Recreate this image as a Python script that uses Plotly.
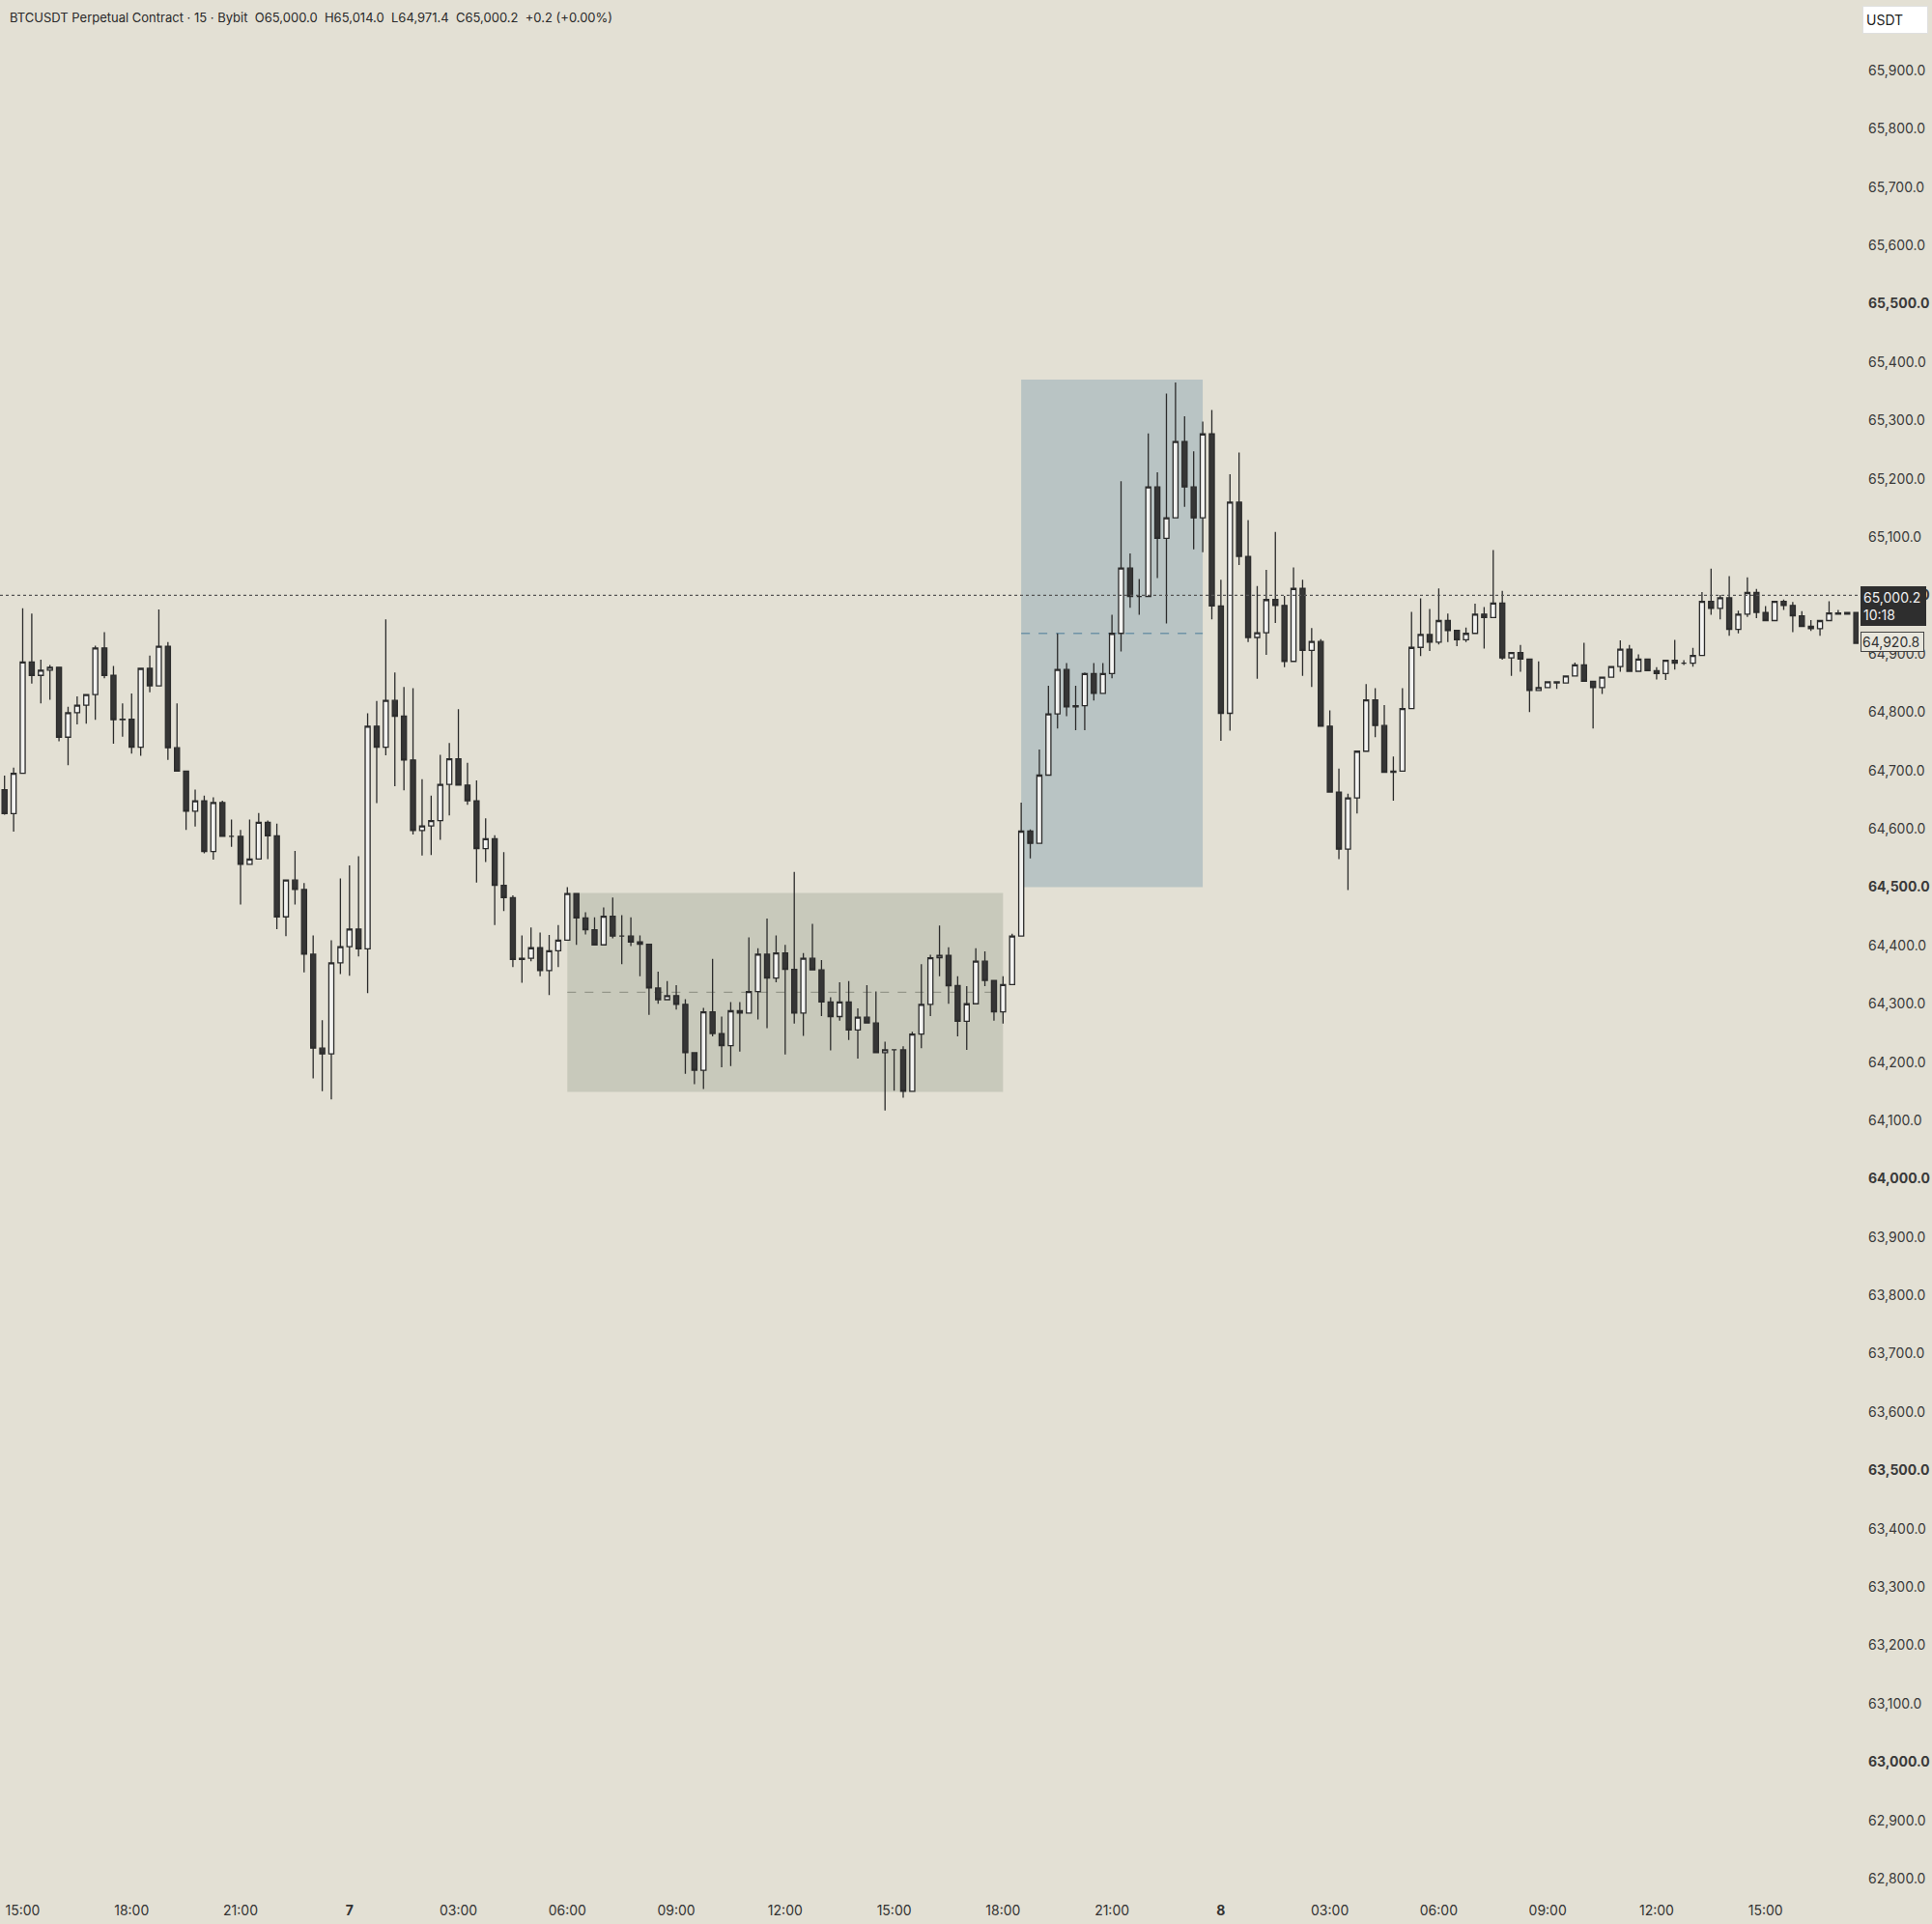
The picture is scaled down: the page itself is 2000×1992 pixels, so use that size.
import pandas as pd
import plotly.graph_objects as go

# 15-minute BTCUSDT candles, first bar = day 6 14:30
opens = [64667, 64626, 64695, 64886, 64863, 64872, 64877, 64757, 64799, 64812,
         64830, 64910, 64863, 64787, 64788, 64740, 64875, 64845, 64913, 64739,
         64699, 64630, 64648, 64561, 64645, 64587, 64587, 64539, 64548, 64611,
         64588, 64449, 64512, 64496, 64385, 64224, 64214, 64370, 64398, 64428,
         64394, 64776, 64740, 64820, 64793, 64718, 64597, 64605, 64614, 64676,
         64720, 64675, 64648, 64566, 64583, 64503, 64482, 64376, 64378, 64396,
         64357, 64391, 64409, 64489, 64447, 64427, 64401, 64450, 64416, 64416,
         64406, 64402, 64327, 64307, 64314, 64299, 64216, 64186, 64286, 64249,
         64228, 64288, 64284, 64321, 64385, 64344, 64387, 64359, 64284, 64378,
         64358, 64303, 64278, 64303, 64255, 64277, 64267, 64216, 64221, 64221,
         64150, 64248, 64299, 64379, 64383, 64331, 64270, 64300, 64373, 64340,
         64286, 64333, 64416, 64596, 64575, 64692, 64797, 64873, 64809, 64811,
         64866, 64832, 64866, 64935, 65047, 64998, 64998, 65186, 65098, 65133,
         65264, 65186, 65133, 65277, 64982, 64798, 65160, 65067, 64928, 64936,
         64993, 64983, 64887, 65012, 64906, 64921, 64776, 64663, 64565, 64653,
         64733, 64821, 64777, 64697, 64699, 64806, 64911, 64933, 64920, 64957,
         64940, 64924, 64935, 64968, 64962, 64987, 64893, 64902, 64891, 64837,
         64842, 64852, 64850, 64862, 64881, 64853, 64842, 64860, 64878, 64908,
         64870, 64891, 64871, 64866, 64889, 64884, 64884, 64897, 64990, 64978,
         64996, 64942, 64968, 65005, 64971, 64957, 64990, 64983, 64965, 64947,
         64943, 64957, 64970, 64968, 64971]
highs = [64691, 64705, 64978, 64969, 64890, 64881, 64877, 64809, 64827, 64830,
         64914, 64937, 64879, 64815, 64832, 64875, 64897, 64976, 64920, 64815,
         64699, 64667, 64657, 64654, 64648, 64616, 64598, 64616, 64627, 64614,
         64609, 64512, 64562, 64507, 64417, 64272, 64409, 64515, 64537, 64553,
         64798, 64819, 64959, 64868, 64843, 64841, 64685, 64657, 64727, 64747,
         64805, 64713, 64683, 64618, 64589, 64560, 64486, 64417, 64431, 64422,
         64418, 64435, 64500, 64489, 64457, 64448, 64465, 64482, 64452, 64448,
         64417, 64402, 64355, 64339, 64332, 64308, 64216, 64293, 64377, 64278,
         64303, 64303, 64414, 64395, 64446, 64417, 64401, 64526, 64387, 64437,
         64375, 64311, 64337, 64339, 64292, 64332, 64321, 64235, 64221, 64227,
         64252, 64368, 64384, 64434, 64397, 64347, 64330, 64395, 64390, 64340,
         64347, 64420, 64645, 64599, 64736, 64845, 64935, 64884, 64845, 64868,
         64884, 64884, 64967, 65196, 65072, 65028, 65278, 65211, 65346, 65365,
         65307, 65247, 65298, 65318, 65027, 65208, 65245, 65129, 65016, 65044,
         65109, 64999, 65048, 65027, 64944, 64925, 64803, 64703, 64660, 64733,
         64848, 64841, 64812, 64724, 64841, 64972, 64995, 64977, 65012, 64969,
         64940, 64945, 64986, 64980, 65078, 65008, 64902, 64915, 64891, 64887,
         64852, 64852, 64862, 64885, 64919, 64853, 64860, 64878, 64923, 64915,
         64899, 64891, 64877, 64889, 64924, 64889, 64910, 65006, 65046, 65001,
         65033, 64974, 65031, 65011, 64982, 64991, 64993, 64989, 64973, 64958,
         64957, 64990, 64975, 64971, 64971]
lows = [64624, 64595, 64695, 64849, 64815, 64821, 64750, 64709, 64779, 64780,
        64787, 64858, 64746, 64758, 64729, 64725, 64834, 64845, 64718, 64699,
        64598, 64604, 64558, 64547, 64587, 64569, 64470, 64539, 64548, 64548,
        64428, 64416, 64470, 64354, 64172, 64150, 64136, 64351, 64348, 64381,
        64318, 64644, 64726, 64673, 64666, 64590, 64554, 64555, 64581, 64623,
        64675, 64641, 64508, 64543, 64435, 64459, 64363, 64336, 64373, 64347,
        64315, 64363, 64409, 64401, 64419, 64401, 64401, 64412, 64368, 64399,
        64347, 64281, 64300, 64307, 64290, 64180, 64162, 64154, 64244, 64191,
        64193, 64218, 64284, 64273, 64258, 64337, 64213, 64266, 64245, 64358,
        64279, 64220, 64271, 64238, 64206, 64267, 64216, 64117, 64151, 64139,
        64150, 64224, 64279, 64347, 64300, 64244, 64221, 64300, 64330, 64271,
        64266, 64333, 64416, 64549, 64575, 64692, 64772, 64793, 64769, 64769,
        64820, 64832, 64858, 64904, 64979, 64967, 64998, 65030, 64952, 65133,
        65152, 65079, 65074, 64959, 64751, 64768, 65052, 64920, 64857, 64898,
        64953, 64877, 64887, 64862, 64843, 64776, 64663, 64548, 64495, 64626,
        64733, 64757, 64697, 64648, 64699, 64806, 64896, 64905, 64916, 64920,
        64913, 64920, 64935, 64909, 64962, 64890, 64862, 64869, 64800, 64837,
        64842, 64840, 64850, 64862, 64853, 64772, 64831, 64860, 64869, 64870,
        64870, 64870, 64856, 64855, 64873, 64881, 64878, 64897, 64967, 64959,
        64931, 64935, 64963, 64961, 64957, 64957, 64975, 64937, 64947, 64939,
        64931, 64957, 64967, 64968, 64918]
closes = [64626, 64695, 64886, 64863, 64872, 64877, 64757, 64799, 64812, 64830,
          64910, 64863, 64787, 64788, 64740, 64875, 64845, 64913, 64739, 64699,
          64630, 64648, 64561, 64645, 64587, 64587, 64539, 64548, 64611, 64588,
          64449, 64512, 64496, 64385, 64224, 64214, 64370, 64398, 64428, 64394,
          64776, 64740, 64820, 64793, 64718, 64597, 64605, 64614, 64676, 64720,
          64675, 64648, 64566, 64583, 64503, 64482, 64376, 64378, 64396, 64357,
          64391, 64409, 64489, 64447, 64427, 64401, 64450, 64416, 64416, 64406,
          64402, 64327, 64307, 64314, 64299, 64216, 64186, 64286, 64249, 64228,
          64288, 64284, 64321, 64385, 64344, 64387, 64359, 64284, 64378, 64358,
          64303, 64278, 64303, 64255, 64277, 64267, 64216, 64221, 64221, 64150,
          64248, 64299, 64379, 64383, 64331, 64270, 64300, 64373, 64340, 64286,
          64333, 64416, 64596, 64575, 64692, 64797, 64873, 64809, 64811, 64866,
          64832, 64866, 64935, 65047, 64998, 64998, 65186, 65098, 65133, 65264,
          65186, 65133, 65277, 64982, 64798, 65160, 65067, 64928, 64936, 64993,
          64983, 64887, 65012, 64906, 64921, 64776, 64663, 64565, 64653, 64733,
          64821, 64777, 64697, 64699, 64806, 64911, 64933, 64920, 64957, 64940,
          64924, 64935, 64968, 64962, 64987, 64893, 64902, 64891, 64837, 64842,
          64852, 64850, 64862, 64881, 64853, 64842, 64860, 64878, 64908, 64870,
          64891, 64871, 64866, 64889, 64884, 64884, 64897, 64990, 64978, 64996,
          64942, 64968, 65005, 64971, 64957, 64990, 64983, 64965, 64947, 64943,
          64957, 64970, 64968, 64971, 64918]

times = pd.date_range("2024-06-06 14:30", periods=len(opens), freq="15min")

# highlighted zones: (first bar, last bar, low, high, fill, midline colour)
zone_first = [62, 112]
zone_last = [110, 132]
zone_low = [64149, 64500]
zone_high = [64490, 65370]
zone_fill = ["#c8c9bb", "#b9c4c4"]
zone_mid = ["#95978a", "#6f93a6"]

last_price = 65000.2
countdown = "10:18"
marker_price = 64920.8

x_tick_labels = ["15:00", "18:00", "21:00", "<b>7</b>", "03:00", "06:00", "09:00", "12:00",
                 "15:00", "18:00", "21:00", "<b>8</b>", "03:00", "06:00", "09:00", "12:00", "15:00"]
y_ticks = list(range(62800, 66000, 100))

BG = "#e3e0d4"
FONT = "Inter, Roboto, sans-serif"

fig = go.Figure()
fig.add_trace(go.Candlestick(
    x=times, open=opens, high=highs, low=lows, close=closes,
    increasing=dict(line=dict(color="#2c2c2c", width=1.3), fillcolor="#f3f3f1"),
    decreasing=dict(line=dict(color="#2c2c2c", width=1.3), fillcolor="#363636"),
    whiskerwidth=0, hoverinfo="skip", showlegend=False,
))

for i in range(len(zone_first)):
    x0, x1 = times[zone_first[i]], times[zone_last[i]]
    fig.add_shape(type="rect", x0=x0, x1=x1, y0=zone_low[i], y1=zone_high[i],
                  fillcolor=zone_fill[i], line=dict(width=0), layer="below")
    mid = (zone_low[i] + zone_high[i]) / 2
    fig.add_shape(type="line", x0=x0, x1=x1, y0=mid, y1=mid, layer="below",
                  line=dict(color=zone_mid[i], width=1.3, dash="dash"))

fig.add_shape(type="line", xref="paper", x0=0, x1=1, y0=last_price, y1=last_price,
              line=dict(color="#555555", width=1.2, dash="dot"))

step = pd.Timedelta("15min")
x_range = [times[0] - step * 0.5, times[0] + step * 204.25]
x_ticks = [times[2] + pd.Timedelta(hours=3 * k) for k in range(len(x_tick_labels))]

y_text = [f"<b>{v:,.1f}</b>" if v % 500 == 0 else f"{v:,.1f}" for v in y_ticks]

fig.update_layout(
    width=2000, height=1992,
    margin=dict(l=0, r=76, t=0, b=34),
    paper_bgcolor=BG, plot_bgcolor=BG,
    font=dict(family=FONT, size=14, color="#3a3a3a"),
    boxgap=0.22,
    hovermode=False,
    xaxis=dict(range=x_range, rangeslider=dict(visible=False), showgrid=False,
               zeroline=False, showline=False, tickvals=x_ticks, ticktext=x_tick_labels,
               ticks="", ticklabelstandoff=10, tickfont=dict(size=14, color="#333333")),
    yaxis=dict(range=[62778.6, 66020.9], side="right", showgrid=False, zeroline=False,
               showline=False, tickvals=y_ticks, ticktext=y_text, ticks="",
               ticklabelstandoff=9, tickfont=dict(size=14, color="#3a3a3a")),
)

fig.add_annotation(xref="paper", yref="paper", x=0, y=1, xshift=8, yshift=-18,
                   xanchor="left", yanchor="middle", showarrow=False,
                   text="BTCUSDT Perpetual Contract · 15 · Bybit  O65,000.0  H65,014.0  L64,971.4  C65,000.2  +0.2 (+0.00%)",
                   font=dict(family=FONT, size=13, color="#2a2a2a"))

fig.add_annotation(xref="paper", yref="paper", x=1, y=1, xshift=4, yshift=-6,
                   xanchor="left", yanchor="top", showarrow=False, text="USDT",
                   width=60, height=21, align="left", bgcolor="#ffffff",
                   bordercolor="#e0e0e0", borderwidth=1, borderpad=3,
                   font=dict(family=FONT, size=14, color="#222222"))

fig.add_annotation(xref="paper", yref="y", x=1, y=last_price, xshift=2, yshift=9,
                   xanchor="left", yanchor="top", showarrow=False,
                   text=f"{last_price:,.1f}<br>{countdown}", align="left",
                   width=62, bgcolor="#2e2e2e", bordercolor="#2e2e2e", borderpad=2,
                   font=dict(family=FONT, size=14, color="#f0f0f0"))

fig.add_annotation(xref="paper", yref="y", x=1, y=marker_price, xshift=2,
                   xanchor="left", yanchor="middle", showarrow=False,
                   text=f"{marker_price:,.1f}", align="left", width=62,
                   bgcolor="#e8e6dc", bordercolor="#444444", borderwidth=1, borderpad=1,
                   font=dict(family=FONT, size=14, color="#333333"))

# drop the browser's default 8px body margin so the chart sits at the page corner
fig.write_html("out.html", config={"displayModeBar": False},
               post_script="document.body.style.margin='0';")
